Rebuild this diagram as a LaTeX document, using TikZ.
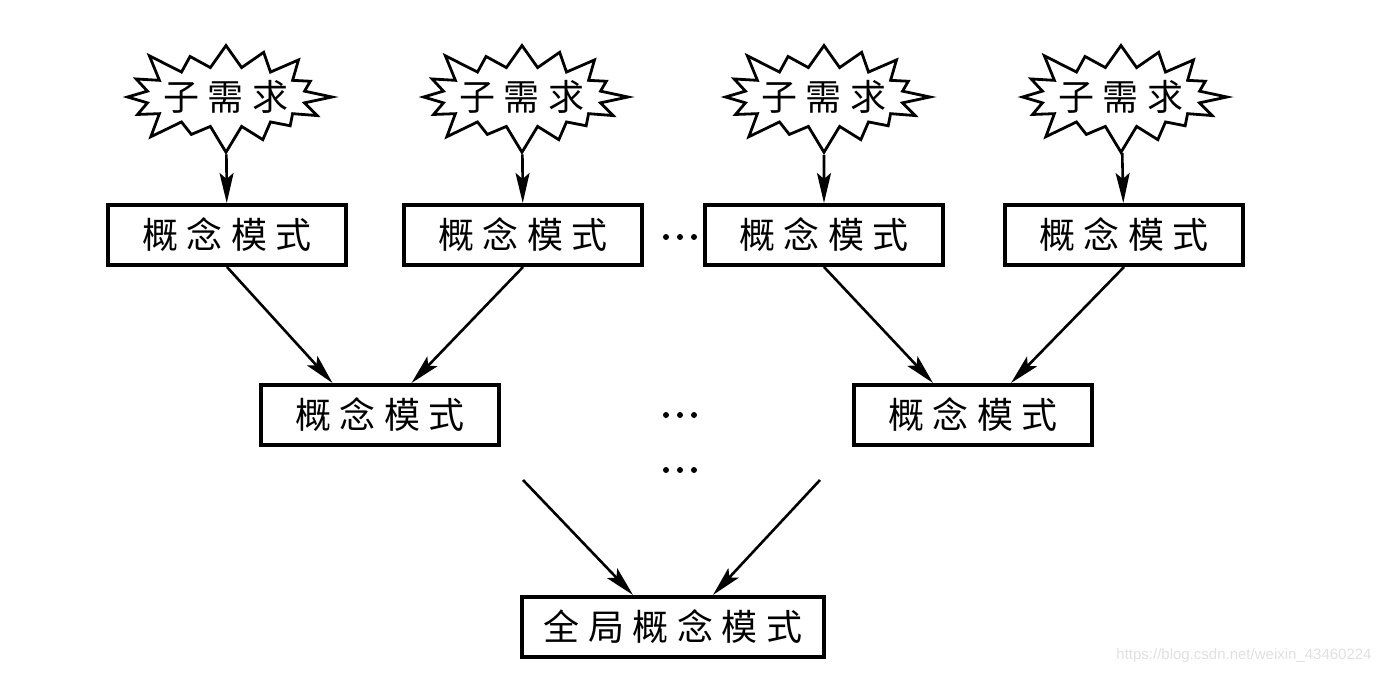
\documentclass[tikz,border=0pt]{standalone}
\usepackage{fontspec}
\newfontfamily\cjk[LetterSpace=24]{Noto Sans CJK SC}
\setsansfont{Liberation Sans}
\usetikzlibrary{shapes.symbols, arrows.meta}

\begin{document}
\begin{tikzpicture}[x=0.5pt, y=-0.5pt,
    model/.style={draw, line width=2pt, minimum width=119pt, minimum height=30pt,
      inner sep=0pt, font=\cjk\fontsize{18pt}{20pt}\selectfont},
    req/.style={starburst, draw, line width=1.4pt, starburst points=16,
      starburst point height=15pt, minimum width=84pt, minimum height=60pt,
      inner xsep=-3pt, inner ysep=0pt, font=\cjk\fontsize{18pt}{20pt}\selectfont},
    link/.style={-{Stealth[length=15pt, width=7pt, inset=3pt]}, line width=1.3pt}]
\useasboundingbox (0,0) rectangle (1389,675);
        % Draw the sub requirements
        \node[req] at (226, 97)  (s1) {子需求};
        \node[req] at (522, 97)  (s2) {子需求};
        \node[req] at (824, 97)  (s3) {子需求};
        \node[req] at (1121, 97) (s4) {子需求};
        % Draw the concept models
        \node[model] at (227, 235)  (b1) {概念模式};
        \node[model] at (523, 235)  (b2) {概念模式};
        \node[model] at (824, 235)  (b3) {概念模式};
        \node[model] at (1124, 235) (b4) {概念模式};
        \node[model] at (380, 415)  (b5) {概念模式};
        \node[model] at (973, 415)  (b6) {概念模式};
        \node[model, minimum width=151pt] at (673, 627) (g) {全局概念模式};
        \coordinate (c1) at (523, 480);
        \coordinate (c2) at (820, 480);
        % Ellipses
        \foreach \y in {237, 415, 470}
            \foreach \x in {666, 680, 694}
                \fill (\x, \y) circle (3);
        % Connect them with arrows
        \path[link]
            (s1) edge (b1)
            (s2) edge (b2)
            (s3) edge (b3)
            (s4) edge (b4)
            (b1.south) edge ([xshift=-23.75pt]b5.north)
            (b2.south) edge ([xshift=15.75pt]b5.north)
            (b3.south) edge ([xshift=-20pt]b6.north)
            (b4.south) edge ([xshift=19pt]b6.north)
            (c1) edge ([xshift=-20pt]g.north)
            (c2) edge ([xshift=20pt]g.north);
        \node[font=\sffamily\fontsize{7.5pt}{9pt}\selectfont, text=black!12] at (1244, 656) (wm) {https://blog.csdn.net/weixin\_43460224};
\end{tikzpicture}
\end{document}
